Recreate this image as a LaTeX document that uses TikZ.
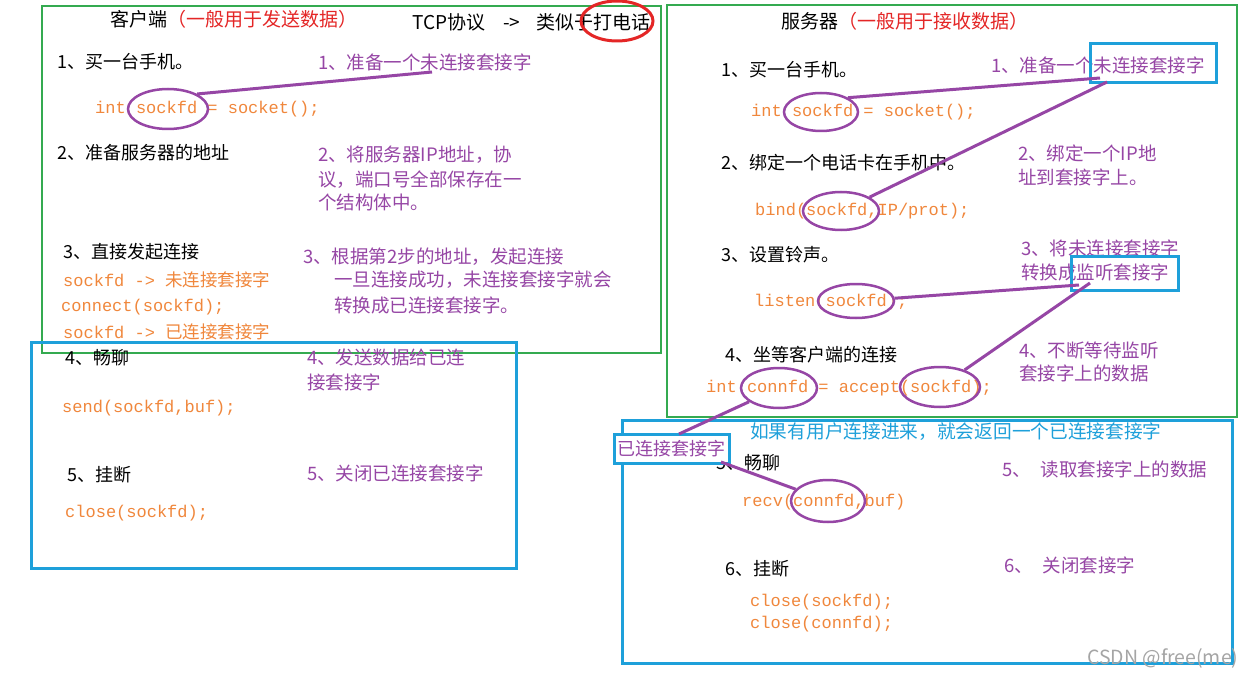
\documentclass[tikz,border=0pt]{standalone}
\usepackage{fontspec}
\setmainfont{Noto Sans CJK SC}
\newfontfamily\codefont{Liberation Mono}
\usetikzlibrary{shapes.geometric}
\definecolor{grn}{RGB}{52,170,80}
\definecolor{blu}{RGB}{30,160,218}
\definecolor{pur}{RGB}{150,70,165}
\definecolor{org}{RGB}{240,135,60}
\definecolor{rd}{RGB}{228,38,38}
\definecolor{wm}{RGB}{165,165,165}
\tikzset{
  txt/.style={anchor=west, inner sep=0pt, text=black, font=\fontsize{18}{22}\selectfont},
  htxt/.style={anchor=west, inner sep=0pt, text=black, font=\fontsize{19}{22}\selectfont},
  ptxt/.style={anchor=west, inner sep=0pt, text=pur, font=\fontsize{18.5}{22}\selectfont},
  code/.style={anchor=west, inner sep=0pt, text=org, font=\codefont\fontsize{17}{20}\selectfont},
  oval/.style={ellipse, draw=pur, line width=2.5pt, inner sep=0pt},
  gbox/.style={draw=grn, line width=2.5pt},
  bbox/.style={draw=blu, line width=3pt, inner sep=0pt},
  link/.style={draw=pur, line width=3pt},
}
\newcommand{\cj}[1]{{\rmfamily\fontsize{17.5}{20}\selectfont #1}}
\begin{document}
\begin{tikzpicture}[x=1pt,y=-1pt]
\useasboundingbox (0,0) rectangle (1253,679);
\fill[white] (0,0) rectangle (1253,679);

% frames
\draw[gbox] (42,6) rectangle (661,353);
\draw[bbox] (31,342) rectangle (516,568);
\draw[gbox] (667,5) rectangle (1237,417);
\draw[bbox] (622,420) rectangle (1232,663);

% ---------------- client ----------------
\node[htxt] (lt) at (110,19) {客户端\textcolor{rd}{（一般用于发送数据）}};
\node[htxt] (tcp) at (412,22) {TCP协议\hspace{18pt}->\hspace{16pt}类似于打电话};
\node[ellipse, draw=rd, line width=3pt, minimum width=72pt, minimum height=40pt] (rc) at (617,21) {};

\node[txt] (l1) at (57,62) {1、买一台手机。};
\node[ptxt] (lp1) at (318,62) {1、准备一个未连接套接字};
\node[code] (lc1) at (95,109) {int sockfd = socket();};
\node[oval, minimum width=80pt, minimum height=40pt] (le1) at (168,109) {};
\coordinate (lq1) at (432,72);
\draw[link] (le1.north east) -- (lq1);

\node[txt] (l2) at (57,153) {2、准备服务器的地址};
\node[ptxt] (lp2a) at (318,155) {2、将服务器IP地址，协};
\node[ptxt] (lp2b) at (318,180) {议，端口号全部保存在一};
\node[ptxt] (lp2c) at (318,202) {个结构体中。};

\node[txt] (l3) at (63,252) {3、直接发起连接};
\node[ptxt] (lp3a) at (303,257) {3、根据第2步的地址，发起连接};
\node[ptxt] (lp3b) at (334,280) {一旦连接成功，未连接套接字就会};
\node[ptxt] (lp3c) at (334,305) {转换成已连接套接字。};
\node[code] (lc3a) at (63,280) {sockfd -> \cj{未连接套接字}};
\node[code] (lc3b) at (61,307) {connect(sockfd);};
\node[code] (lc3c) at (63,332) {sockfd -> \cj{已连接套接字}};

\node[txt] (l4) at (65,358) {4、畅聊};
\node[ptxt] (lp4a) at (307,357) {4、发送数据给已连};
\node[ptxt] (lp4b) at (307,382) {接套接字};
\node[code] (lc4) at (62,408) {send(sockfd,buf);};

\node[txt] (l5) at (67,475) {5、挂断};
\node[ptxt] (lp5) at (307,473) {5、关闭已连接套接字};
\node[code] (lc5) at (65,513) {close(sockfd);};

% ---------------- server ----------------
\node[htxt] (rt) at (781,21) {服务器\textcolor{rd}{（一般用于接收数据）}};

\node[txt] (r1) at (721,70) {1、买一台手机。};
\node[ptxt] (rp1) at (991,65) {1、准备一个未连接套接字};
\node[bbox, minimum width=126pt, minimum height=39pt] (rb1) at (1153,63.5) {};
\node[code] (rc1) at (751,112) {int sockfd = socket();};
\node[oval, minimum width=74pt, minimum height=38pt] (re1) at (821,112) {};
\coordinate (rq1) at (1100,78);
\draw[link] (re1.north east) -- (rq1);

\node[txt] (r2) at (721,163) {2、绑定一个电话卡在手机中。};
\node[ptxt] (rp2a) at (1018,153) {2、绑定一个IP地};
\node[ptxt] (rp2b) at (1018,177) {址到套接字上。};
\node[code] (rc2) at (755,211) {bind(sockfd,IP/prot);};
\node[oval, minimum width=76pt, minimum height=38pt] (re2) at (841,211) {};
\coordinate (rq2) at (1107,82);
\draw[link] (rq2) -- (re2);

\node[txt] (r3) at (721,255) {3、设置铃声。};
\node[ptxt] (rp3a) at (1021,248) {3、将未连接套接字};
\node[ptxt] (rp3b) at (1021,272) {转换成监听套接字};
\node[bbox, minimum width=107pt, minimum height=34pt] (rb3) at (1124.5,273) {};
\node[code] (rc3) at (754,302) {listen(sockfd);};
\node[oval, minimum width=76pt, minimum height=34pt] (re3) at (856,301) {};
\coordinate (rq3) at (1079,285);
\draw[link] (re3) -- (rq3);

\node[txt] (r4) at (725,355) {4、坐等客户端的连接};
\node[ptxt] (rp4a) at (1019,350) {4、不断等待监听};
\node[ptxt] (rp4b) at (1019,373) {套接字上的数据};
\node[code] (rc4) at (706,388) {int connfd = accept(sockfd);};
\node[oval, minimum width=76pt, minimum height=40pt] (re4a) at (779,388) {};
\node[oval, minimum width=80pt, minimum height=40pt] (re4b) at (940,387) {};
\coordinate (rq4) at (1090,283);
\draw[link] (re4b) -- (rq4);

\node[anchor=west, inner sep=0pt, text=blu, font=\fontsize{18.7}{22}\selectfont] (note) at (750,432) {如果有用户连接进来，就会返回一个已连接套接字};

\node[txt] (r5) at (716,463) {5、畅聊};
\node[bbox, fill=white, minimum width=115pt, minimum height=29pt, text=pur, font=\fontsize{18}{22}\selectfont] (rb5) at (671.5,448.5) {已连接套接字};
\coordinate (rq5) at (679,434);
\draw[link] (re4a) -- (rq5);
\coordinate (rq6) at (721,462);
\node[ptxt] (rp5) at (1002,469) {5、\hspace{10pt}读取套接字上的数据};
\node[code] (rc5) at (742,502) {recv(connfd,buf)};
\node[oval, minimum width=74pt, minimum height=42pt] (re5) at (828,501) {};
\draw[link] (rq6) -- (re5);

\node[txt] (r6) at (725,569) {6、挂断};
\node[ptxt] (rp6) at (1004,565) {6、\hspace{10pt}关闭套接字};
\node[code] (rc6a) at (750,602) {close(sockfd);};
\node[code] (rc6b) at (750,624) {close(connfd);};

\node[anchor=west, inner sep=0pt, text=wm, font=\fontsize{19.5}{22}\selectfont] (csdn) at (1087,658) {CSDN @free(me)};
\end{tikzpicture}
\end{document}
